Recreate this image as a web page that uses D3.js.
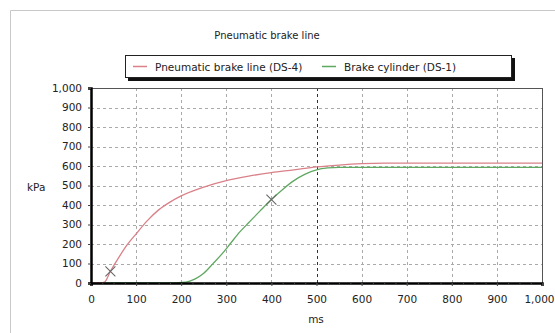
<!DOCTYPE html>
<html>
<head>
<meta charset="utf-8">
<script src="https://cdn.jsdelivr.net/npm/d3@7"></script>
<style>
  body { margin: 0; background: #fff; }
  text { font-family: "DejaVu Sans", Verdana, sans-serif; fill: #222; }
</style>
</head>
<body>
<svg id="chart" width="555" height="333"></svg>
<script>
// values
var timesMs = [0, 20, 30, 43, 60, 80, 100, 125, 150, 175, 200, 250, 300, 350, 400, 450, 500, 550, 600, 650, 700, 800, 900, 1000];
var brakeLine = [0, 0, 5, 60, 125, 195, 252, 320, 375, 415, 447, 492, 525, 548, 566, 580, 595, 605, 612, 615, 615, 615, 615, 615];
var cylTimesMs = [0, 160, 210, 230, 250, 270, 290, 310, 330, 350, 375, 400, 425, 450, 475, 500, 525, 550, 600, 700, 800, 900, 1000];
var cylinder = [0, 0, 5, 20, 50, 98, 148, 205, 262, 310, 370, 428, 480, 525, 558, 580, 590, 593, 593, 593, 593, 593, 593];
var markers = [{ t: 43, v: 60 }, { t: 400, v: 428 }];
var yTicks = [0, 100, 200, 300, 400, 500, 600, 700, 800, 900, 1000];
var xTicks = [0, 100, 200, 300, 400, 500, 600, 700, 800, 900, 1000];
var seriesNames = ['Pneumatic brake line (DS-4)', 'Brake cylinder (DS-1)'];
var seriesColors = ['#d98088', '#5fa860'];

var svg = d3.select('#chart');
var margin = { left: 91, right: 13, top: 88, bottom: 50 };
var width = 555 - margin.left - margin.right;
var height = 333 - margin.top - margin.bottom;

var fmt = d3.format(',');
var x = d3.scaleLinear().domain([0, 1000]).range([margin.left, margin.left + width]);
var y = d3.scaleLinear().domain([0, 1000]).range([margin.top + height, margin.top]);

// outer frame
svg.append('path')
  .attr('d', 'M10.5,340 V10.5 H560')
  .attr('fill', 'none').attr('stroke', '#c8c8c8');

svg.append('text')
  .attr('x', 267).attr('y', 39)
  .attr('text-anchor', 'middle')
  .style('font-size', '10px')
  .text('Pneumatic brake line');

// legend with shadow
var lg = svg.append('g');
lg.append('rect').attr('x', 128).attr('y', 58).attr('width', 387).attr('height', 23).attr('fill', '#111');
lg.append('rect').attr('x', 125.5).attr('y', 55.5).attr('width', 386).attr('height', 22)
  .attr('fill', '#fff').attr('stroke', '#222');
var legX = [133, 322];
seriesNames.forEach(function(name, i) {
  lg.append('line').attr('x1', legX[i]).attr('x2', legX[i] + 14).attr('y1', 66.5).attr('y2', 66.5)
    .attr('stroke', seriesColors[i]).attr('stroke-width', 1.5);
  lg.append('text').attr('x', legX[i] + 22).attr('y', 70.5)
    .style('font-size', '10.5px').text(name);
});

// grid
var grid = svg.append('g');
grid.selectAll('line.h').data(yTicks.slice(1)).enter().append('line')
  .attr('x1', x(0)).attr('x2', x(1000))
  .attr('y1', function(d) { return Math.round(y(d)) + 0.5; })
  .attr('y2', function(d) { return Math.round(y(d)) + 0.5; })
  .attr('stroke', '#aaa').attr('stroke-dasharray', '3,3');
grid.selectAll('line.v').data(xTicks.slice(1, -1)).enter().append('line')
  .attr('y1', y(0)).attr('y2', y(1000))
  .attr('x1', function(d) { return Math.round(x(d)) + 0.5; })
  .attr('x2', function(d) { return Math.round(x(d)) + 0.5; })
  .attr('stroke', function(d) { return d === 500 ? '#333' : '#aaa'; })
  .attr('stroke-dasharray', '3,3');

// plot border
svg.append('rect')
  .attr('x', x(0) + 0.5).attr('y', y(1000) + 0.5)
  .attr('width', width).attr('height', height)
  .attr('fill', 'none').attr('stroke', '#555');

// series
var line = d3.line().curve(d3.curveMonotoneX);
var redPts = timesMs.map(function(t, i) { return [x(t), y(brakeLine[i])]; });
var greenPts = cylTimesMs.map(function(t, i) { return [x(t), y(cylinder[i])]; });
svg.append('path').attr('d', line(greenPts)).attr('fill', 'none')
  .attr('stroke', seriesColors[1]).attr('stroke-width', 1.3);
svg.append('path').attr('d', line(redPts)).attr('fill', 'none')
  .attr('stroke', seriesColors[0]).attr('stroke-width', 1.3);

// markers
svg.selectAll('path.mk').data(markers).enter().append('path')
  .attr('d', function(d) {
    var cx = x(d.t), cy = y(d.v), r = 5;
    return 'M' + (cx - r) + ',' + (cy - r) + 'L' + (cx + r) + ',' + (cy + r) +
      'M' + (cx - r) + ',' + (cy + r) + 'L' + (cx + r) + ',' + (cy - r);
  })
  .attr('stroke', '#666').attr('stroke-width', 1.1);

// axes
var xAxis = svg.append('g').attr('transform', 'translate(0,' + (y(0)) + ')')
  .call(d3.axisBottom(x).tickValues(xTicks).tickFormat(fmt).tickSize(3).tickPadding(10));
var xMinor = svg.append('g').attr('transform', 'translate(0,' + (y(0)) + ')')
  .call(d3.axisBottom(x).tickValues(d3.range(0, 1001, 25)).tickFormat('').tickSize(2));
xMinor.select('.domain').remove();
var yAxis = svg.append('g').attr('transform', 'translate(' + x(0) + ',0)')
  .call(d3.axisLeft(y).tickValues(yTicks).tickFormat(fmt).tickSize(3).tickPadding(6));
[xAxis, yAxis].forEach(function(a) {
  a.select('.domain').attr('stroke', '#000').attr('stroke-width', 2.5);
  a.selectAll('text').style('font-size', '10.5px').attr('fill', '#222');
});
// keep the last x label inside the window
xAxis.selectAll('.tick').filter(function(d) { return d === 1000; }).select('text')
  .attr('text-anchor', 'end').attr('x', 12);
svg.selectAll('.tick line').attr('stroke', '#444');

svg.append('text').attr('x', 316).attr('y', 323).attr('text-anchor', 'middle')
  .style('font-size', '10.5px').text('ms');
svg.append('text').attr('x', 27).attr('y', 191)
  .style('font-size', '10.5px').text('kPa');
</script>
</body>
</html>
